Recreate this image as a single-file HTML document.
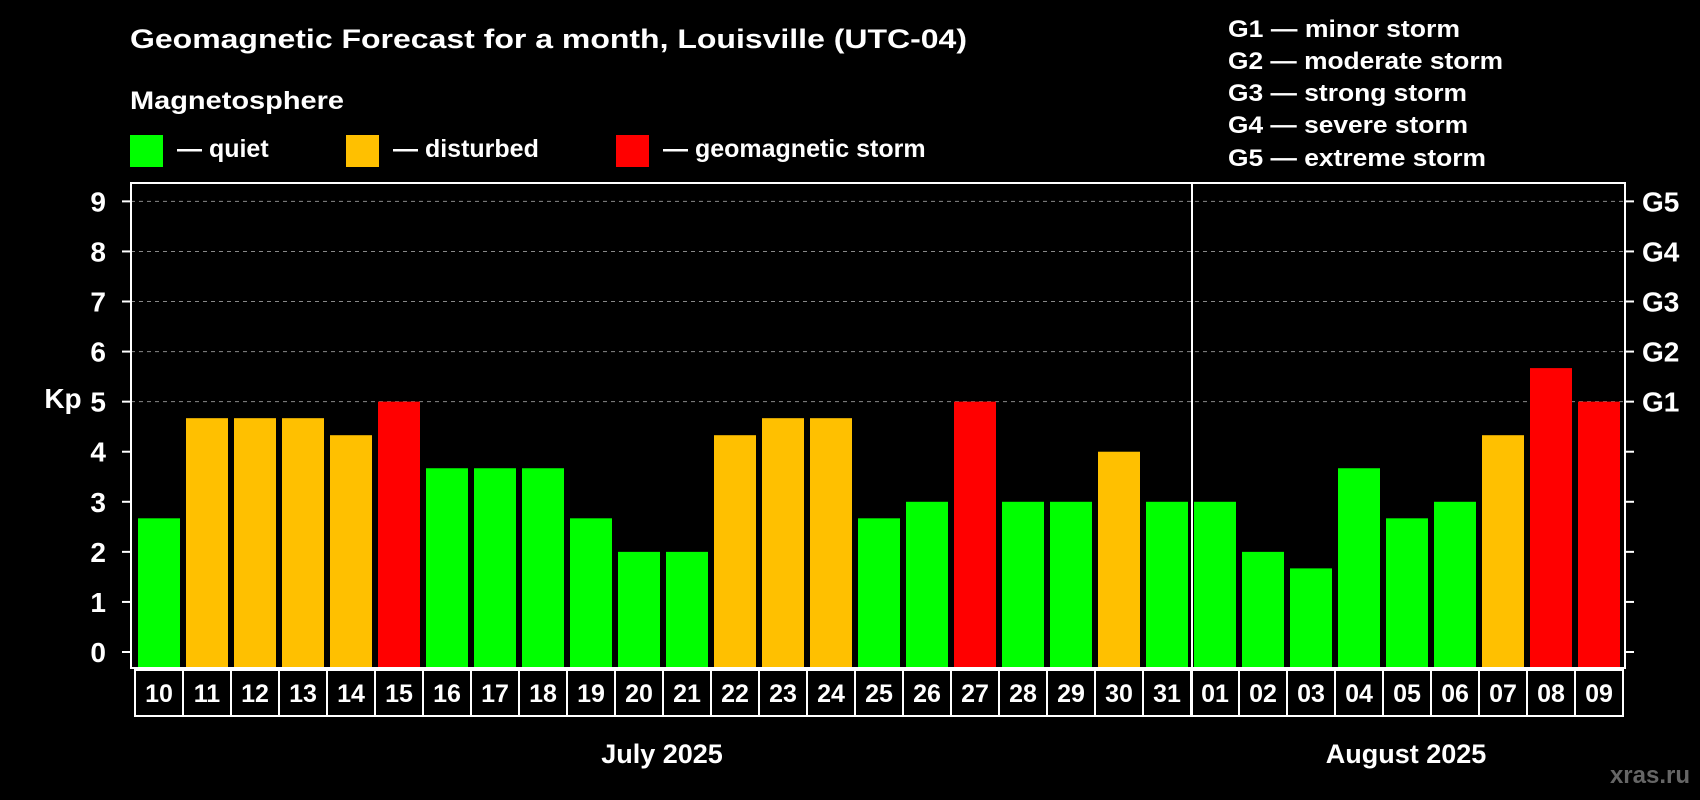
<!DOCTYPE html>
<html><head><meta charset="utf-8"><style>
html,body{margin:0;padding:0;background:#000;}
svg{display:block;font-family:"Liberation Sans",Arial,sans-serif;font-weight:bold;}
</style></head><body>
<svg id="chart" width="1700" height="800" viewBox="0 0 1700 800" xmlns="http://www.w3.org/2000/svg">
<rect x="0" y="0" width="1700" height="800" fill="#000"/>
<text x="130" y="48" fill="#fff" font-size="27" textLength="837" lengthAdjust="spacingAndGlyphs">Geomagnetic Forecast for a month, Louisville (UTC-04)</text>
<text x="130" y="109" fill="#fff" font-size="25" textLength="214" lengthAdjust="spacingAndGlyphs">Magnetosphere</text>
<g>
<rect x="130" y="135" width="33" height="32" fill="#00ff00"/>
<text x="177" y="157" fill="#fff" font-size="25">— quiet</text></g>
<g>
<rect x="346" y="135" width="33" height="32" fill="#ffc000"/>
<text x="393" y="157" fill="#fff" font-size="25">— disturbed</text></g>
<g>
<rect x="616" y="135" width="33" height="32" fill="#ff0000"/>
<text x="663" y="157" fill="#fff" font-size="25">— geomagnetic storm</text></g>
<g font-size="24" fill="#fff">
<text x="1228" y="37" textLength="232" lengthAdjust="spacingAndGlyphs">G1 — minor storm</text>
<text x="1228" y="69" textLength="275" lengthAdjust="spacingAndGlyphs">G2 — moderate storm</text>
<text x="1228" y="101" textLength="239" lengthAdjust="spacingAndGlyphs">G3 — strong storm</text>
<text x="1228" y="133" textLength="240" lengthAdjust="spacingAndGlyphs">G4 — severe storm</text>
<text x="1228" y="166" textLength="258" lengthAdjust="spacingAndGlyphs">G5 — extreme storm</text>
</g>
<text x="63" y="408" fill="#fff" font-size="28" text-anchor="middle">Kp</text>
<g id="grid"></g><g id="bars"></g><g id="axes"></g>
<text x="662" y="763" fill="#fff" font-size="27" text-anchor="middle">July 2025</text>
<text x="1406" y="763" fill="#fff" font-size="27" text-anchor="middle">August 2025</text>
<text x="1690" y="783" fill="#666" font-size="24" text-anchor="end">xras.ru</text>
</svg>
<script>
const days = ["10","11","12","13","14","15","16","17","18","19","20","21","22","23","24","25","26","27","28","29","30","31","01","02","03","04","05","06","07","08","09"];
const kpValues = [2.67,4.67,4.67,4.67,4.33,5,3.67,3.67,3.67,2.67,2,2,4.33,4.67,4.67,2.67,3,5,3,3,4,3,3,2,1.67,3.67,2.67,3,4.33,5.67,5];
const yTicks = [0,1,2,3,4,5,6,7,8,9];
const gLabels = ["G1","G2","G3","G4","G5"];
const NS="http://www.w3.org/2000/svg";
const L=131,R=1625,T=183,B=668,X0=135,STEP=48;
function y(v){return 652-v*50.07;}
function x(i){return X0+i*STEP;}
function mk(tag,attrs,parent){const e=document.createElementNS(NS,tag);for(const k in attrs)e.setAttribute(k,attrs[k]);parent.appendChild(e);return e;}
const grid=document.getElementById('grid'),bars=document.getElementById('bars'),axes=document.getElementById('axes');
yTicks.forEach(v=>{
  if(v>=5){const g=mk('line',{x1:L,x2:R,y1:y(v),y2:y(v),stroke:'#888','stroke-width':1,'stroke-dasharray':'4,4'},grid);
  
  }
  const t1=mk('line',{x1:L-9,x2:L,y1:y(v),y2:y(v),stroke:'#fff','stroke-width':2},axes);
  
  
  const t2=mk('line',{x1:R,x2:R+9,y1:y(v),y2:y(v),stroke:'#fff','stroke-width':2},axes);
  
  
  const lb=mk('text',{x:L-25,y:y(v)+10,fill:'#fff','font-size':28,'text-anchor':'end'},axes);
  lb.textContent=v;
  
  
});
gLabels.forEach((g,i)=>{
  const t=mk('text',{x:R+17,y:y(5+i)+10,fill:'#fff','font-size':28},axes);
  t.textContent=g;
  
  
});
function col(v){return v>=5?'#ff0000':(v>=4?'#ffc000':'#00ff00');}
kpValues.forEach((v,i)=>{
  const top=y(v);
  const r=mk('rect',{x:x(i)+3,y:top,width:42,height:B-top,fill:col(v)},bars);
  
  
  const bx=mk('rect',{x:x(i),y:670,width:STEP,height:46,fill:'none',stroke:'#fff','stroke-width':2},axes);
  
  
  const tx=mk('text',{x:x(i)+STEP/2,y:702,fill:'#fff','font-size':25,'text-anchor':'middle'},axes);
  tx.textContent=days[i];
  
  
});
const fr=mk('rect',{x:L,y:T,width:R-L,height:B-T,fill:'none',stroke:'#fff','stroke-width':2},axes);


const sep=days.indexOf("01");
const sl=mk('line',{x1:x(sep)+1,x2:x(sep)+1,y1:T,y2:716,stroke:'#fff','stroke-width':2},axes);


</script>
</body></html>
